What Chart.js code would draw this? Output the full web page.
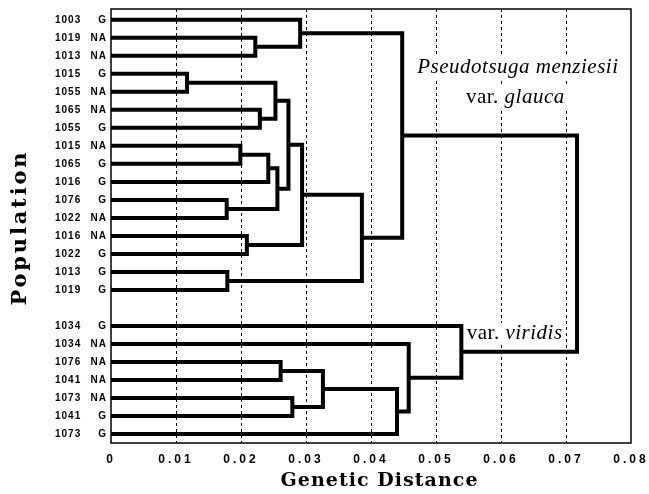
<!DOCTYPE html>
<html>
<head>
<meta charset="utf-8">
<script src="https://cdn.jsdelivr.net/npm/chart.js@4"></script>
<style>
  html, body { margin: 0; padding: 0; background: #fff; }
  #wrap { width: 649px; height: 494px; }
</style>
</head>
<body>
<div id="wrap"><canvas id="dendro" width="649" height="494"></canvas></div>
<script>
// leaves, top to bottom
const populations = ['1003', '1019', '1013', '1015', '1055', '1065', '1055', '1015', '1065', '1016', '1076', '1022',
    '1016', '1022', '1013', '1019', '1034', '1034', '1076', '1041', '1073', '1041', '1073'];
const seedSource = ['G', 'NA', 'NA', 'G', 'NA', 'NA', 'G', 'NA', 'G', 'G', 'G', 'NA',
    'NA', 'G', 'G', 'G', 'G', 'NA', 'NA', 'NA', 'NA', 'G', 'G'];
const glaucaLeaves = 16; // the first 16 leaves are var. glauca, then a blank row

// clusters: node ids 0-22 are leaves, merge k creates node 23 + k
const mergeLeft = [1, 0, 3, 5, 25, 7, 28, 10, 29, 27, 12, 32, 14, 34, 24, 18, 20, 38, 40, 17, 16, 37];
const mergeRight = [2, 23, 4, 6, 26, 8, 9, 11, 30, 31, 13, 33, 15, 35, 36, 19, 21, 39, 22, 41, 42, 43];
const mergeHeight = [0.0222, 0.0291, 0.0117, 0.0229, 0.0253, 0.0199, 0.0242, 0.0178, 0.0256, 0.0273, 0.0209,
    0.0294, 0.0179, 0.0386, 0.0448, 0.0261, 0.0279, 0.0326, 0.0440, 0.0458, 0.0539, 0.0717];

const distanceTicks = [0, 0.01, 0.02, 0.03, 0.04, 0.05, 0.06, 0.07, 0.08];

// position of every node
const nodeX = [];
const nodeY = [];
populations.forEach((p, i) => {
    nodeX[i] = 0;
    nodeY[i] = i + (i >= glaucaLeaves ? 1 : 0);
});

const datasets = [];
mergeHeight.forEach((h, k) => {
    const a = mergeLeft[k];
    const b = mergeRight[k];
    datasets.push({
        data: [
            { x: nodeX[a], y: nodeY[a] },
            { x: h, y: nodeY[a] },
            { x: h, y: nodeY[b] },
            { x: nodeX[b], y: nodeY[b] }
        ],
        showLine: true,
        borderColor: '#000',
        borderWidth: 4,
        borderJoinStyle: 'miter',
        pointRadius: 0,
        tension: 0
    });
    nodeX[populations.length + k] = h;
    nodeY[populations.length + k] = (nodeY[a] + nodeY[b]) / 2;
});

// text with spacing stretched to a given width
function spacedText(ctx, text, x, y, width) {
    ctx.letterSpacing = '0px';
    const w = ctx.measureText(text).width;
    const s = Math.max(0, (width - w) / (text.length - 1));
    ctx.letterSpacing = s + 'px';
    ctx.textAlign = 'left';
    ctx.fillText(text, x - width / 2, y);
    ctx.letterSpacing = '0px';
}

// mixed roman / italic label, centred on (x, y)
function mixedLabel(ctx, parts, x, y, size, background) {
    let total = 0;
    ctx.letterSpacing = '0.5px';
    parts.forEach(p => {
        ctx.font = (p.italic ? 'italic ' : '') + size + 'px "Liberation Serif"';
        total += ctx.measureText(p.text).width;
    });
    if (background) {
        ctx.fillStyle = '#fff';
        ctx.fillRect(x - total / 2 - 3, y - size * 0.8, total + 6, size * 1.05);
        ctx.letterSpacing = '0px';
        return;
    }
    let cx = x - total / 2;
    ctx.fillStyle = '#000';
    ctx.textAlign = 'left';
    ctx.textBaseline = 'alphabetic';
    parts.forEach(p => {
        ctx.font = (p.italic ? 'italic ' : '') + size + 'px "Liberation Serif"';
        ctx.fillText(p.text, cx, y);
        cx += ctx.measureText(p.text).width;
    });
    ctx.letterSpacing = '0px';
}

const varietyLabels = [
    { x: 0.0626, y: 2.95, parts: [{ text: 'Pseudotsuga menziesii', italic: true }] },
    { x: 0.0622, y: 4.6, parts: [{ text: 'var. ', italic: false }, { text: 'glauca', italic: true }] },
    { x: 0.0621, y: 17.75, parts: [{ text: 'var. ', italic: false }, { text: 'viridis', italic: true }] }
];

const decorations = {
    id: 'decorations',
    beforeDraw(chart) {
        chart.ctx.letterSpacing = '3px';
    },
    beforeDatasetsDraw(chart) {
        const ctx = chart.ctx;
        const xs = chart.scales.x, ys = chart.scales.y;
        ctx.save();
        varietyLabels.forEach(l => mixedLabel(ctx, l.parts, xs.getPixelForValue(l.x), ys.getPixelForValue(l.y), 21, true));
        ctx.restore();
    },
    afterDraw(chart) {
        const ctx = chart.ctx;
        const area = chart.chartArea;
        const xs = chart.scales.x, ys = chart.scales.y;
        ctx.save();
        ctx.letterSpacing = '0px';

        // frame
        ctx.strokeStyle = '#000';
        ctx.lineWidth = 1.5;
        ctx.strokeRect(area.left, area.top, area.right - area.left, area.bottom - area.top);

        // population labels
        ctx.fillStyle = '#000';
        ctx.font = 'bold 10px "Liberation Sans"';
        ctx.textBaseline = 'middle';
        ctx.letterSpacing = '1px';
        populations.forEach((p, i) => {
            const y = ys.getPixelForValue(nodeY[i]);
            ctx.textAlign = 'left';
            ctx.fillText(p, 55, y);
            ctx.textAlign = 'right';
            ctx.fillText(seedSource[i], 107, y);
        });
        ctx.letterSpacing = '0px';

        // variety names
        varietyLabels.forEach(l => mixedLabel(ctx, l.parts, xs.getPixelForValue(l.x), ys.getPixelForValue(l.y), 21, false));

        // axis titles
        ctx.fillStyle = '#000';
        ctx.textBaseline = 'alphabetic';
        ctx.font = 'bold 19px "DejaVu Serif"';
        spacedText(ctx, 'Genetic Distance', 379, 486, 197);

        ctx.translate(26, 229);
        ctx.rotate(-Math.PI / 2);
        ctx.font = 'bold 21px "DejaVu Serif"';
        spacedText(ctx, 'Population', 0, 0, 153);
        ctx.restore();
    }
};

new Chart(document.getElementById('dendro').getContext('2d'), {
    type: 'scatter',
    data: { datasets: datasets },
    options: {
        responsive: false,
        animation: false,
        layout: { padding: { left: 111, right: 18, top: 9, bottom: 0 } },
        plugins: {
            legend: { display: false },
            tooltip: { enabled: false }
        },
        scales: {
            x: {
                type: 'linear',
                min: 0,
                max: 0.08,
                afterBuildTicks: scale => {
                    scale.ticks = distanceTicks.map(v => ({ value: v }));
                },
                afterFit: scale => {
                    scale.height = 51;
                    scale.paddingLeft = 0;
                    scale.paddingRight = 0;
                },
                ticks: {
                    padding: 9,
                    color: '#000',
                    font: { family: '"Liberation Sans"', size: 12, weight: 'bold' },
                    maxRotation: 0,
                    callback: v => (v === 0 ? '0' : v.toFixed(2))
                },
                grid: {
                    drawTicks: false,
                    tickLength: 0,
                    lineWidth: 1,
                    color: c => (c.tick && c.tick.value > 0 && c.tick.value < 0.08 ? '#000' : 'rgba(0,0,0,0)')
                },
                border: { display: false, dash: [3, 3] }
            },
            y: {
                type: 'linear',
                display: false,
                reverse: true,
                min: -0.6,
                max: 23.5
            }
        }
    },
    plugins: [decorations]
});
</script>
</body>
</html>
